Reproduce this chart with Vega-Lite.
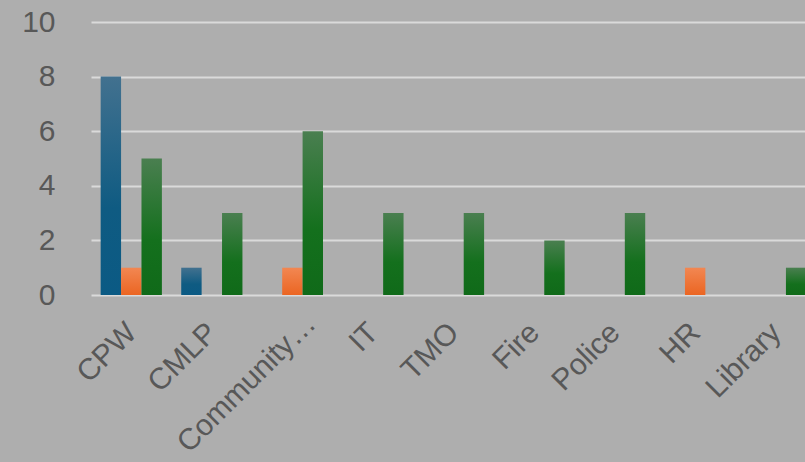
{
  "$schema": "https://vega.github.io/schema/vega-lite/v6.json",
  "autosize": "none",
  "width": 725,
  "height": 273,
  "padding": {"left": 91, "top": 22, "right": 0, "bottom": 167},
  "background": "#aeaeae",
  "config": {
    "view": {"stroke": null},
    "axis": {"labelFont": "Liberation Sans", "labelColor": "#585858", "labelFontSize": 30, "ticks": false, "domain": false}
  },
  "data": {
    "values": [
      {"dept": "CPW", "series": "S1", "count": 8},
      {"dept": "CPW", "series": "S2", "count": 1},
      {"dept": "CPW", "series": "S3", "count": 5},
      {"dept": "CMLP", "series": "S1", "count": 1},
      {"dept": "CMLP", "series": "S3", "count": 3},
      {"dept": "Community…", "series": "S2", "count": 1},
      {"dept": "Community…", "series": "S3", "count": 6},
      {"dept": "IT", "series": "S3", "count": 3},
      {"dept": "TMO", "series": "S3", "count": 3},
      {"dept": "Fire", "series": "S3", "count": 2},
      {"dept": "Police", "series": "S3", "count": 3},
      {"dept": "HR", "series": "S2", "count": 1},
      {"dept": "Library", "series": "S3", "count": 1}
    ]
  },
  "encoding": {
    "x": {
      "field": "dept", "type": "nominal", "title": null,
      "sort": ["CPW", "CMLP", "Community…", "IT", "TMO", "Fire", "Police", "HR", "Library"],
      "scale": {"domain": ["CPW", "CMLP", "Community…", "IT", "TMO", "Fire", "Police", "HR", "Library"], "paddingInner": 0.24, "paddingOuter": 0.12},
      "axis": {"labelAngle": -45, "grid": false, "labelLimit": 300,
        "labelPadding": {"condition": {"test": "datum.value === 'Community…'", "value": 13}, "value": 22},
        "labelOffset": {"condition": {"test": "datum.value === 'Community…'", "value": 8}, "value": -10}}
    },
    "xOffset": {"field": "series", "type": "nominal", "scale": {"domain": ["S1", "S2", "S3"]}},
    "y": {
      "field": "count", "type": "quantitative", "title": null,
      "scale": {"domain": [0, 10]},
      "axis": {"values": [0, 2, 4, 6, 8, 10], "labelPadding": 36, "gridColor": "#dadada", "gridWidth": 2}
    }
  },
  "layer": [
    {
      "transform": [{"filter": "datum.series === 'S1'"}],
      "mark": {"type": "bar", "color": {"gradient": "linear", "x1": 0, "y1": 0, "x2": 0, "y2": 1, "stops": [{"offset": 0, "color": "#42718f"}, {"offset": 0.6, "color": "#0f5b82"}, {"offset": 1, "color": "#0b5a84"}]}}
    },
    {
      "transform": [{"filter": "datum.series === 'S2'"}],
      "mark": {"type": "bar", "color": {"gradient": "linear", "x1": 0, "y1": 0, "x2": 0, "y2": 1, "stops": [{"offset": 0, "color": "#f28752"}, {"offset": 1, "color": "#eb6522"}]}}
    },
    {
      "transform": [{"filter": "datum.series === 'S3'"}],
      "mark": {"type": "bar", "color": {"gradient": "linear", "x1": 0, "y1": 0, "x2": 0, "y2": 1, "stops": [{"offset": 0, "color": "#4a7f50"}, {"offset": 0.6, "color": "#14701d"}, {"offset": 1, "color": "#106a19"}]}}
    }
  ]
}
